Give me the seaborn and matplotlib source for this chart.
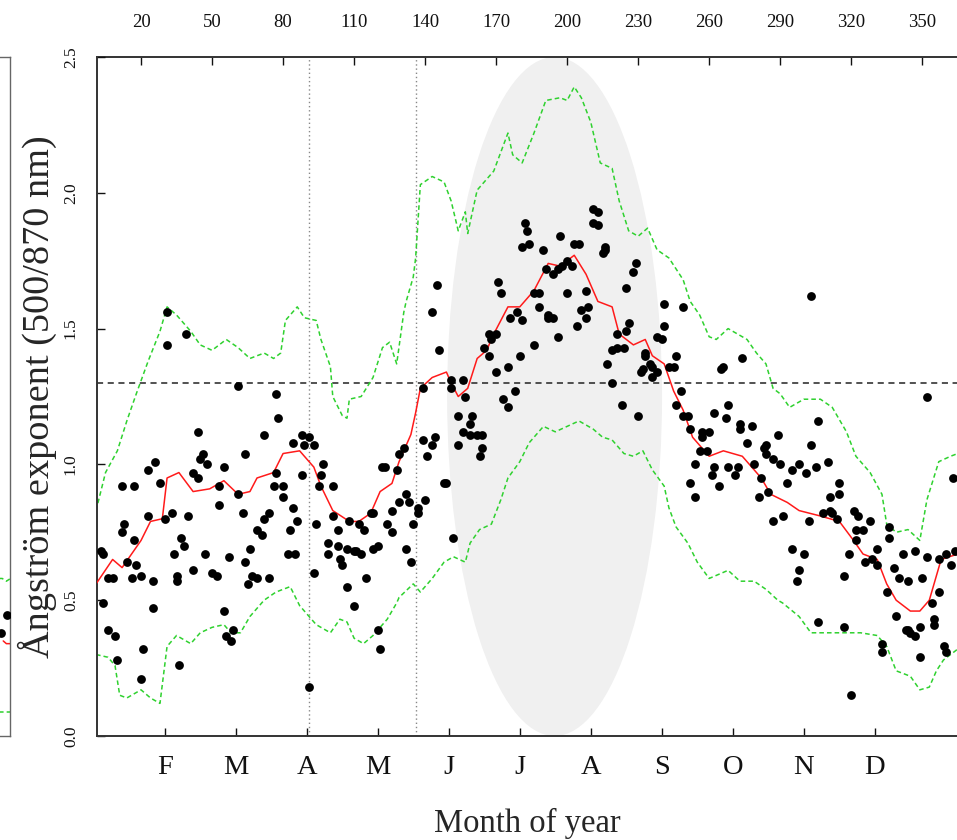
"""
Seasonal cycle of the Angstrom exponent (500/870 nm), day-of-year view.
Saves out.png (957x840).
"""
import matplotlib
matplotlib.use("Agg")
import matplotlib.pyplot as plt
from matplotlib.patches import Ellipse
import seaborn as sns

# ---- data ------------------------------------------------------------------
dot_day = [3, 4, 4, 6, 6, 8, 9, 10, 12, 12, 13, 14, 16, 17, 17, 18, 20, 20, 21, 23,
           23, 25, 25, 26, 28, 30, 31, 31, 33, 34, 35, 35, 36, 37, 38, 39, 40, 42, 42, 44,
           44, 45, 46, 47, 48, 50, 52, 53, 53, 55, 55, 56, 57, 58, 59, 61, 61, 63, 64, 64,
           65, 66, 67, 69, 69, 71, 72, 72, 74, 74, 76, 77, 77, 78, 80, 80, 82, 83, 84, 84,
           85, 86, 88, 88, 89, 91, 91, 93, 93, 94, 95, 96, 97, 99, 99, 101, 101, 103, 103, 104,
           105, 107, 107, 108, 110, 110, 111, 112, 113, 114, 115, 117, 118, 118, 120, 120, 121, 122, 123, 124,
           126, 126, 128, 129, 129, 131, 132, 132, 133, 134, 135, 137, 137, 139, 139, 140, 141, 143, 143, 144,
           145, 146, 148, 149, 151, 151, 152, 154, 154, 156, 156, 157, 159, 159, 160, 162, 163, 164, 164, 165,
           167, 167, 168, 170, 170, 171, 172, 173, 175, 175, 176, 178, 179, 180, 181, 181, 182, 183, 184, 186,
           186, 188, 188, 190, 191, 192, 192, 194, 194, 196, 196, 197, 198, 200, 200, 202, 203, 204, 205, 206,
           208, 208, 209, 211, 211, 213, 213, 215, 216, 216, 217, 219, 219, 221, 221, 223, 224, 225, 225, 226,
           228, 229, 230, 231, 232, 233, 233, 235, 236, 236, 238, 238, 240, 241, 241, 243, 245, 246, 246, 248,
           249, 249, 251, 252, 252, 254, 254, 256, 257, 257, 259, 260, 261, 262, 262, 264, 265, 266, 267, 268,
           268, 271, 272, 273, 273, 274, 276, 278, 279, 281, 282, 283, 284, 284, 285, 287, 287, 289, 290, 291,
           293, 295, 295, 297, 298, 298, 300, 301, 302, 303, 303, 305, 306, 306, 308, 310, 311, 311, 312, 314,
           315, 315, 317, 317, 319, 320, 321, 322, 322, 323, 325, 326, 328, 329, 331, 331, 333, 333, 335, 336,
           336, 338, 339, 340, 342, 343, 344, 344, 345, 347, 347, 349, 349, 350, 352, 352, 354, 355, 355, 357,
           357, 359, 360, 360, 362, 363, 364]
dot_val = [0.68, 0.67, 0.49, 0.58, 0.39, 0.58, 0.37, 0.28, 0.75, 0.92, 0.78, 0.64, 0.58, 0.72, 0.92, 0.63, 0.59, 0.21, 0.32, 0.81,
           0.98, 0.57, 0.47, 1.01, 0.93, 0.80, 1.56, 1.44, 0.82, 0.67, 0.57, 0.59, 0.26, 0.73, 0.70, 1.48, 0.81, 0.97, 0.61, 0.95,
           1.12, 1.02, 1.04, 0.67, 1.00, 0.60, 0.59, 0.85, 0.92, 0.99, 0.46, 0.37, 0.66, 0.35, 0.39, 1.29, 0.89, 0.82, 1.04, 0.64,
           0.56, 0.69, 0.59, 0.58, 0.76, 0.74, 0.80, 1.11, 0.58, 0.82, 0.92, 0.97, 1.26, 1.17, 0.88, 0.92, 0.67, 0.76, 0.84, 1.08,
           0.67, 0.79, 0.96, 1.11, 1.07, 1.10, 0.18, 0.60, 1.07, 0.78, 0.92, 0.96, 1.00, 0.71, 0.67, 0.81, 0.92, 0.70, 0.76, 0.65,
           0.63, 0.69, 0.55, 0.79, 0.68, 0.48, 0.68, 0.78, 0.67, 0.76, 0.58, 0.82, 0.69, 0.82, 0.70, 0.39, 0.32, 0.99, 0.99, 0.78,
           0.83, 0.75, 0.98, 1.04, 0.86, 1.06, 0.89, 0.69, 0.86, 0.64, 0.78, 0.84, 0.82, 1.09, 1.28, 0.87, 1.03, 1.56, 1.07, 1.10,
           1.66, 1.42, 0.93, 0.93, 1.31, 1.28, 0.73, 1.07, 1.18, 1.12, 1.31, 1.25, 1.11, 1.15, 1.18, 1.11, 1.03, 1.11, 1.06, 1.43,
           1.48, 1.40, 1.46, 1.48, 1.34, 1.67, 1.63, 1.24, 1.21, 1.36, 1.54, 1.27, 1.56, 1.40, 1.53, 1.80, 1.89, 1.86, 1.81, 1.44,
           1.63, 1.58, 1.63, 1.79, 1.72, 1.54, 1.55, 1.54, 1.70, 1.47, 1.72, 1.84, 1.73, 1.63, 1.75, 1.73, 1.81, 1.51, 1.81, 1.57,
           1.54, 1.64, 1.58, 1.89, 1.94, 1.88, 1.93, 1.78, 1.79, 1.80, 1.37, 1.30, 1.42, 1.43, 1.48, 1.22, 1.43, 1.65, 1.49, 1.52,
           1.71, 1.74, 1.18, 1.34, 1.35, 1.40, 1.41, 1.37, 1.36, 1.32, 1.47, 1.34, 1.46, 1.59, 1.51, 1.36, 1.36, 1.40, 1.22, 1.27,
           1.58, 1.18, 1.18, 1.13, 0.93, 1.00, 0.88, 1.05, 1.12, 1.10, 1.05, 1.12, 0.96, 1.19, 0.99, 0.92, 1.35, 1.36, 1.17, 1.22,
           0.99, 0.96, 0.99, 1.15, 1.13, 1.39, 1.08, 1.14, 1.00, 0.88, 0.95, 1.06, 1.07, 1.04, 0.90, 1.02, 0.79, 1.11, 1.00, 0.81,
           0.93, 0.98, 0.69, 0.57, 0.61, 1.00, 0.67, 0.97, 0.79, 1.07, 1.62, 0.99, 1.16, 0.42, 0.82, 1.01, 0.88, 0.83, 0.82, 0.80,
           0.93, 0.89, 0.59, 0.40, 0.67, 0.15, 0.83, 0.76, 0.72, 0.81, 0.76, 0.64, 0.79, 0.65, 0.69, 0.63, 0.34, 0.31, 0.53, 0.77,
           0.73, 0.62, 0.44, 0.58, 0.67, 0.39, 0.57, 0.39, 0.38, 0.68, 0.37, 0.40, 0.29, 0.58, 0.66, 1.25, 0.49, 0.41, 0.43, 0.65,
           0.53, 0.33, 0.67, 0.31, 0.63, 0.95, 0.68]

median_day = [1, 8, 12, 20, 24, 29, 31, 36, 42, 49, 55, 61, 66, 69, 76, 80, 87, 93, 96, 101,
              108, 112, 117, 121, 126, 129, 134, 136, 138, 143, 149, 151, 154, 158, 162, 166, 169, 175, 180, 186,
              192, 197, 203, 208, 213, 219, 222, 228, 233, 236, 241, 245, 249, 253, 260, 266, 274, 282, 286, 293,
              298, 307, 315, 321, 325, 331, 335, 339, 345, 349, 353, 358, 365]
median_val = [0.56, 0.65, 0.62, 0.72, 0.79, 0.80, 0.95, 0.97, 0.90, 0.91, 0.94, 0.89, 0.90, 0.95, 0.97, 1.04, 1.05, 0.99, 0.92, 0.83,
              0.79, 0.79, 0.82, 0.90, 0.93, 1.01, 1.11, 1.19, 1.28, 1.32, 1.34, 1.30, 1.25, 1.28, 1.39, 1.42, 1.48, 1.58, 1.58, 1.64,
              1.74, 1.73, 1.77, 1.70, 1.60, 1.58, 1.48, 1.44, 1.46, 1.40, 1.37, 1.27, 1.20, 1.10, 1.03, 1.05, 1.03, 0.95, 0.89, 0.86,
              0.83, 0.81, 0.79, 0.72, 0.67, 0.65, 0.56, 0.50, 0.46, 0.46, 0.50, 0.65, 0.67]

upper_day = [1, 5, 10, 14, 18, 23, 28, 31, 35, 41, 45, 50, 56, 61, 66, 72, 76, 79, 81, 86,
             89, 94, 96, 100, 101, 105, 107, 108, 113, 118, 122, 125, 128, 131, 132, 135, 136, 138, 143, 148,
             151, 154, 157, 158, 162, 169, 175, 177, 181, 186, 191, 197, 200, 203, 206, 210, 214, 219, 222, 226,
             230, 234, 238, 243, 249, 252, 256, 260, 263, 268, 272, 276, 280, 284, 287, 290, 294, 300, 307, 312,
             318, 322, 328, 333, 335, 339, 344, 349, 352, 357, 362, 365]
upper_val = [0.83, 0.97, 1.05, 1.16, 1.26, 1.38, 1.49, 1.58, 1.55, 1.49, 1.44, 1.42, 1.46, 1.43, 1.39, 1.41, 1.39, 1.41, 1.53, 1.58,
             1.54, 1.53, 1.46, 1.36, 1.25, 1.18, 1.17, 1.24, 1.25, 1.32, 1.43, 1.45, 1.37, 1.56, 1.60, 1.69, 1.76, 2.03, 2.06, 2.04,
             1.97, 1.86, 1.93, 1.85, 2.01, 2.08, 2.22, 2.14, 2.11, 2.22, 2.34, 2.35, 2.34, 2.39, 2.35, 2.26, 2.11, 2.09, 1.97, 1.86,
             1.84, 1.87, 1.79, 1.76, 1.68, 1.60, 1.55, 1.47, 1.46, 1.50, 1.48, 1.46, 1.41, 1.37, 1.28, 1.26, 1.21, 1.24, 1.24, 1.21,
             1.12, 1.03, 0.97, 0.89, 0.78, 0.75, 0.76, 0.72, 0.87, 1.01, 1.03, 1.04]

lower_day = [1, 6, 9, 11, 14, 20, 24, 28, 31, 35, 41, 45, 50, 55, 58, 62, 66, 72, 77, 83,
             87, 94, 100, 104, 107, 110, 114, 118, 124, 128, 129, 135, 138, 143, 148, 152, 157, 159, 163, 168,
             172, 175, 180, 184, 190, 195, 200, 205, 211, 215, 219, 224, 228, 232, 236, 241, 243, 246, 251, 255,
             260, 268, 273, 279, 284, 289, 291, 298, 303, 310, 318, 324, 331, 335, 339, 345, 349, 353, 356, 359,
             365]
lower_val = [0.30, 0.29, 0.26, 0.15, 0.14, 0.17, 0.14, 0.12, 0.33, 0.37, 0.34, 0.38, 0.40, 0.41, 0.38, 0.38, 0.44, 0.50, 0.53, 0.55,
             0.48, 0.41, 0.38, 0.43, 0.42, 0.36, 0.34, 0.37, 0.43, 0.49, 0.51, 0.56, 0.53, 0.58, 0.64, 0.66, 0.64, 0.71, 0.76, 0.78,
             0.87, 0.95, 1.01, 1.08, 1.14, 1.12, 1.14, 1.16, 1.13, 1.10, 1.09, 1.04, 1.03, 1.05, 0.98, 0.92, 0.84, 0.77, 0.71, 0.64,
             0.58, 0.61, 0.57, 0.57, 0.54, 0.50, 0.49, 0.44, 0.38, 0.38, 0.38, 0.38, 0.37, 0.33, 0.24, 0.22, 0.17, 0.18, 0.24, 0.28,
             0.32]

month_ticks = [30, 60, 90, 120, 150, 180, 210, 240, 270, 300, 330]
month_labels = ["F", "M", "A", "M", "J", "J", "A", "S", "O", "N", "D"]
doy_ticks = [20, 50, 80, 110, 140, 170, 200, 230, 260, 290, 320, 350]
y_ticks = [0.0, 0.5, 1.0, 1.5, 2.0, 2.5]

threshold = 1.3
marker_days = [91, 136]
highlight_days = [149.3, 240.1]

# end of the neighbouring panel that is cut off on the left
nb_upper_day = [354, 358, 362, 366]
nb_upper_val = [0.58, 0.58, 0.57, 0.58]
nb_lower_day = [354, 358, 362, 366]
nb_lower_val = [0.09, 0.09, 0.09, 0.09]
nb_median_day = [359, 362, 366]
nb_median_val = [0.35, 0.34, 0.34]
nb_dot_day = [357, 362.5]
nb_dot_val = [0.38, 0.445]

# ---- styling ----------------------------------------------------------------
sns.set_theme(style="ticks")
plt.rcParams["font.family"] = ["Liberation Serif", "DejaVu Serif"]

GREEN = "#2fd12f"
RED = "#ff1a1a"
SPINE = "#333333"
DOT_SIZE = 40

fig = plt.figure(figsize=(9.57, 8.4), dpi=100)
ax = fig.add_axes([97 / 957, 104 / 840, 860 / 957, 679 / 840])

# shaded summer window
lo, hi = highlight_days
ax.add_patch(Ellipse(((lo + hi) / 2, 1.25), hi - lo, 2.5,
                     facecolor="#f0f0f0", edgecolor="none", zorder=0))

ax.axhline(threshold, color="#222222", lw=1.1, ls=(0, (4, 3)), zorder=1)
for d in marker_days:
    ax.axvline(d, color="#888888", lw=1.0, ls=(0, (1, 2)), zorder=1)

sns.lineplot(x=upper_day, y=upper_val, ax=ax, color=GREEN, lw=1.1,
             linestyle=(0, (3, 2)), errorbar=None, zorder=2)
sns.lineplot(x=lower_day, y=lower_val, ax=ax, color=GREEN, lw=1.1,
             linestyle=(0, (3, 2)), errorbar=None, zorder=2)
sns.lineplot(x=median_day, y=median_val, ax=ax, color=RED, lw=1.1,
             errorbar=None, zorder=3)
sns.scatterplot(x=dot_day, y=dot_val, ax=ax, color="black", s=DOT_SIZE,
                linewidth=0, zorder=4)

ax.set_xlim(1.4, 364.7)
ax.set_ylim(0, 2.5)

ax.set_xticks(month_ticks)
ax.set_xticklabels(month_labels)
ax.set_yticks(y_ticks)
ax.set_yticklabels([f"{v:.1f}" for v in y_ticks])
ax.tick_params(axis="x", direction="in", length=6, width=1, pad=14,
               labelsize=20.5, colors="#111111")
ax.tick_params(axis="y", direction="in", length=6, width=1, pad=13,
               labelsize=12.5, colors="#111111")
for lbl in ax.get_yticklabels():
    lbl.set_rotation(90)
    lbl.set_va("center")

sec = ax.secondary_xaxis("top")
sec.set_xticks(doy_ticks)
sec.tick_params(direction="in", length=6, width=1, pad=19, labelsize=13.5,
                colors="#111111")
sec.spines["top"].set_linewidth(1.4)
sec.spines["top"].set_color(SPINE)

ax.spines["top"].set_visible(False)
ax.spines["right"].set_visible(False)
for side in ("left", "bottom"):
    ax.spines[side].set_linewidth(1.4)
    ax.spines[side].set_color(SPINE)

ax.set_xlabel("Month of year", fontsize=23.5)
ax.xaxis.set_label_coords(0.5, (736 - 823) / 679)
ax.xaxis.label.set_va("center")
ax.set_ylabel("Ångström exponent (500/870 nm)", fontsize=27.5)
ax.yaxis.set_label_coords((37 - 97) / 860, 0.5)
ax.yaxis.label.set_va("center")

# neighbouring panel, only its right edge is in view
ax0 = fig.add_axes([-0.05, 104 / 840, 0.05 + 9.5 / 957, 679 / 840])
sns.lineplot(x=nb_upper_day, y=nb_upper_val, ax=ax0, color=GREEN, lw=1.1,
             linestyle=(0, (3, 2)), errorbar=None)
sns.lineplot(x=nb_lower_day, y=nb_lower_val, ax=ax0, color=GREEN, lw=1.1,
             linestyle=(0, (3, 2)), errorbar=None)
sns.lineplot(x=nb_median_day, y=nb_median_val, ax=ax0, color=RED, lw=1.1,
             errorbar=None)
sns.scatterplot(x=nb_dot_day, y=nb_dot_val, ax=ax0, color="black", s=DOT_SIZE,
                linewidth=0, zorder=4)
ax0.set_xlim(310, 365)
ax0.set_ylim(0, 2.5)
ax0.set_xticks([])
ax0.set_yticks([])
ax0.set_xlabel("")
ax0.set_ylabel("")
for side in ax0.spines.values():
    side.set_color("#666666")
    side.set_linewidth(1.0)

fig.savefig("out.png", dpi=100)
plt.close(fig)
